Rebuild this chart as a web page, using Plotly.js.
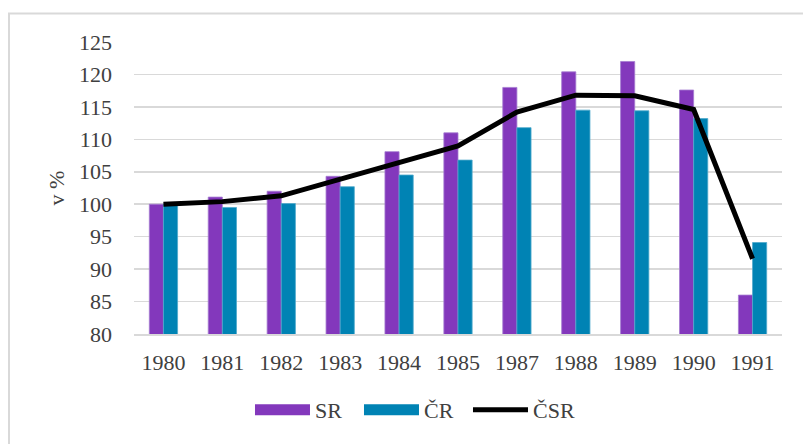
<!DOCTYPE html>
<html>
<head>
<meta charset="utf-8">
<script src="https://cdn.plot.ly/plotly-3.0.1.min.js"></script>
<style>
  html, body { margin: 0; padding: 0; background: #ffffff; }
  #chart { width: 803px; height: 444px; }
</style>
</head>
<body>
<div id="chart"></div>
<script>
const years = ["1980", "1981", "1982", "1983", "1984", "1985", "1987", "1988", "1989", "1990", "1991"];
const sr    = [100.0, 101.1, 102.0, 104.3, 108.1, 111.0, 118.0, 120.4, 122.0, 117.6, 86.0];
const cr    = [100.0, 99.5, 100.1, 102.7, 104.5, 106.8, 111.8, 114.5, 114.4, 113.2, 94.1];
const csr   = [100.0, 100.4, 101.3, 103.8, 106.4, 109.0, 114.2, 116.8, 116.7, 114.6, 91.6];
const yTicks = [80, 85, 90, 95, 100, 105, 110, 115, 120, 125];

const purple = "#8338BC";
const blue = "#0083B4";
const font = "Liberation Serif";

const traces = [
  {
    type: "bar", x: years, y: sr, name: "SR",
    marker: { color: purple, line: { color: "#a57bd0", width: 0.8 } }
  },
  {
    type: "bar", x: years, y: cr, name: "ČR",
    marker: { color: blue, line: { color: "#4fa9cc", width: 0.8 } }
  },
  {
    type: "scatter", mode: "lines", x: years, y: csr, name: "ČSR",
    line: { color: "#000000", width: 5 }
  }
];

const layout = {
  width: 803, height: 444,
  margin: { l: 134, r: 21, t: 42, b: 110, pad: 0 },
  paper_bgcolor: "#ffffff", plot_bgcolor: "#ffffff",
  font: { family: font, size: 22, color: "#404040" },
  barmode: "group", bargap: 0.52, bargroupgap: 0,
  showlegend: true,
  legend: {
    orientation: "h", x: 0.179, xanchor: "left", y: -0.26, yanchor: "middle",
    font: { family: font, size: 22, color: "#404040" },
    itemwidth: 55, entrywidth: 39, traceorder: "normal"
  },
  xaxis: {
    type: "category", categoryorder: "array", categoryarray: years,
    showgrid: false, showline: true, linecolor: "#d9d9d9", linewidth: 1.5,
    ticks: "", ticklabelstandoff: 8, zeroline: false,
    tickfont: { family: font, size: 22, color: "#404040" }
  },
  yaxis: {
    range: [80, 125], tickvals: yTicks, ticktext: yTicks.map(String),
    showgrid: true, gridcolor: "#d9d9d9", gridwidth: 1.5,
    zeroline: false, showline: false, ticks: "", ticklabelstandoff: 21,
    tickfont: { family: font, size: 22, color: "#404040" },
    title: { text: "v %", font: { family: font, size: 22, color: "#404040" }, standoff: 8 }
  },
  shapes: [
    {
      type: "rect", xref: "paper", yref: "paper",
      x0: -0.1929, x1: 1.2, y0: -0.6, y1: 1.098,
      line: { color: "#d9d9d9", width: 2 }, fillcolor: "rgba(0,0,0,0)", layer: "below"
    }
  ]
};

Plotly.newPlot("chart", traces, layout, { displayModeBar: false, staticPlot: true }).then(function (gd) {
  // widen the bar legend swatches to match the line swatch, as in the original
  const items = gd.querySelectorAll(".legend .traces");
  let x0 = 5, x1 = 50;
  items.forEach(function (it) {
    const ln = it.querySelector(".legendlines path");
    if (ln) {
      const bb = ln.getBBox();
      x0 = bb.x; x1 = bb.x + bb.width;
    }
  });
  items.forEach(function (it) {
    const p = it.querySelector(".legendpoints path");
    if (p && !it.querySelector(".legendlines path")) {
      p.removeAttribute("transform");
      p.setAttribute("d", "M" + x0 + ",-5.5H" + x1 + "V5.5H" + x0 + "Z");
      p.style.strokeWidth = "0";
    }
  });
});
</script>
</body>
</html>
